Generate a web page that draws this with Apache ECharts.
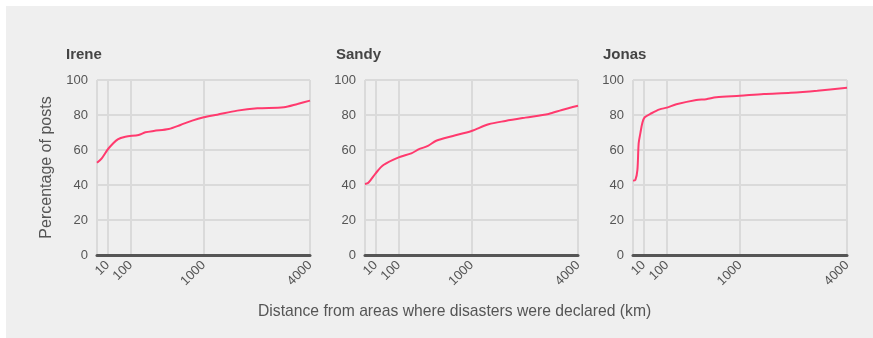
<!DOCTYPE html>
<html>
<head>
<meta charset="utf-8">
<script src="https://cdn.jsdelivr.net/npm/echarts@6/dist/echarts.min.js"></script>
<style>
  html, body { margin: 0; padding: 0; background: #fff; }
  #chart { position: absolute; left: 6px; top: 6px; width: 867px; height: 332px; background: #efefef; }
</style>
</head>
<body>
<div id="chart"></div>
<script>
// distances in km, percentage of posts
const storms = ['Irene', 'Sandy', 'Jonas']
const xTicks = [10, 100, 1000, 4000]
const yTicks = [0, 20, 40, 60, 80, 100]

const ireneKm = [0, 2, 12, 38, 71, 153, 206, 284, 454, 614, 799, 1005, 1274, 1735, 2266, 3080, 3543, 4000]
const ireneVal = [52.7, 55.2, 61, 66.1, 67.6, 68.6, 70.1, 70.9, 72, 74.3, 76.8, 78.7, 80.2, 82.5, 83.8, 84.4, 86.3, 88.2]

const sandyKm = [0, 1, 10, 30, 100, 189, 262, 349, 447, 681, 1000, 1347, 1738, 2268, 2972, 3418, 4000]
const sandyVal = [40.6, 41.3, 46.7, 51.4, 55.8, 58.1, 60.6, 62.3, 65.3, 68, 70.9, 74.7, 76.6, 78.5, 80.6, 82.9, 85.3]

const jonasKm = [0, 0.5, 1.7, 2.8, 4.7, 7.7, 12, 30, 62, 100, 164, 350, 468, 605, 1000, 1496, 2173, 2967, 4000]
const jonasVal = [42.5, 42.9, 48.6, 63.8, 69.5, 75.6, 78.7, 81, 83.2, 84.2, 86.1, 88.6, 89, 90.1, 91, 92, 92.7, 93.9, 95.6]

const seriesKm = [ireneKm, sandyKm, jonasKm]
const seriesVal = [ireneVal, sandyVal, jonasVal]

const chart = echarts.init(document.getElementById('chart'))
const font = 'Liberation Sans, Arial, Helvetica, sans-serif'
const lefts = [91, 359, 627]
const widths = [213, 213, 214]
const titleLefts = [60, 330, 597]
const sq = (v) => Math.sqrt(v)
const xMax = sq(4000)

const option = {
  animation: false,
  title: storms.map((s, i) => ({
    text: s,
    left: titleLefts[i],
    top: 41,
    padding: 0,
    textStyle: { fontFamily: font, fontSize: 15, fontWeight: 'bold', color: '#444' }
  })).concat([{
    text: 'Distance from areas where disasters were declared (km)',
    left: 252,
    top: 298,
    padding: 0,
    textStyle: { fontFamily: font, fontSize: 15.7, fontWeight: 'normal', color: '#555' }
  }]),
  grid: storms.map((s, i) => ({ left: lefts[i], width: widths[i], top: 74, height: 175 })),
  xAxis: storms.map((s, i) => ({
    type: 'value',
    gridIndex: i,
    min: 0,
    max: xMax,
    axisLine: { show: true, onZero: false, lineStyle: { color: '#555', width: 3 } },
    axisTick: { show: false, customValues: [0].concat(xTicks).map(sq) },
    axisLabel: {
      customValues: xTicks.map(sq),
      rotate: 45,
      fontFamily: font,
      fontSize: 13,
      color: '#555',
      margin: 8,
      formatter: (v) => String(Math.round(v * v))
    },
    splitLine: { show: true, lineStyle: { color: '#dadada', width: 2 } }
  })),
  yAxis: storms.map((s, i) => ({
    type: 'value',
    gridIndex: i,
    min: yTicks[0],
    max: yTicks[yTicks.length - 1],
    interval: 20,
    name: i === 0 ? 'Percentage of posts' : '',
    nameLocation: 'middle',
    nameGap: 42,
    nameTextStyle: { fontFamily: font, fontSize: 16, color: '#555' },
    axisLine: { show: false },
    axisTick: { show: false },
    axisLabel: { fontFamily: font, fontSize: 13, color: '#555', margin: 9 },
    splitLine: { lineStyle: { color: '#dadada', width: 2 } }
  })),
  series: storms.map((s, i) => ({
    type: 'line',
    name: s,
    xAxisIndex: i,
    yAxisIndex: i,
    smooth: 0.3,
    symbol: 'none',
    lineStyle: { color: '#ff3a6e', width: 2 },
    data: seriesKm[i].map((km, j) => [sq(km), seriesVal[i][j]])
  }))
}

chart.setOption(option)
</script>
</body>
</html>
